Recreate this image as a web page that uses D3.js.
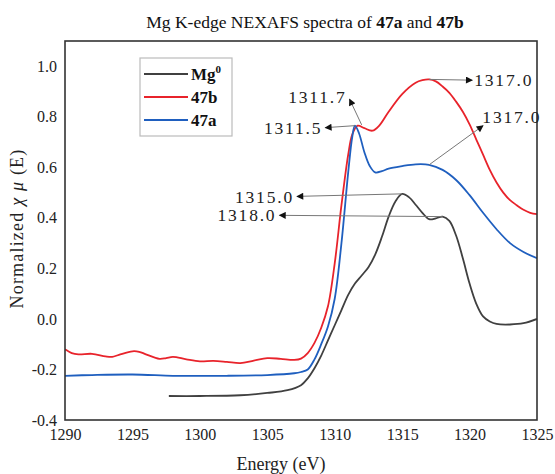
<html>
<head>
    <script src="https://d3js.org/d3.v7.min.js"></script>
    <style>
        body { margin: 0; background: #fff; }
        .tick-label { font-family: "Liberation Serif", serif; font-size: 16px; fill: #222; }
        .title { font-family: "Liberation Serif", serif; font-size: 17.5px; fill: #111; text-anchor: middle; }
        .axis-label { font-family: "Liberation Serif", serif; font-size: 18px; fill: #222; }
        .legend text { font-family: "Liberation Serif", serif; font-size: 17px; font-weight: bold; fill: #111; }
        .note { font-family: "Liberation Serif", serif; font-size: 17.5px; fill: #222; letter-spacing: 1.8px; }
        .arrow-line { stroke: #777; stroke-width: 1; }
    </style>
</head>
<body>
    <svg id="chart"></svg>

    <script>
        // Mg0 reference
        const mg0Energy = [1297.7, 1300, 1303, 1305, 1306.5, 1307.5, 1308, 1308.5, 1309, 1309.5, 1310, 1310.5, 1311, 1311.5, 1312, 1312.5, 1313, 1313.5, 1314, 1314.5, 1315, 1315.5, 1316, 1316.5, 1317, 1317.5, 1318, 1318.5, 1319, 1319.5, 1320, 1320.5, 1321, 1321.5, 1322, 1323, 1324, 1325];
        const mg0Value = [-0.305, -0.305, -0.302, -0.293, -0.282, -0.262, -0.235, -0.195, -0.145, -0.085, -0.025, 0.035, 0.095, 0.14, 0.172, 0.205, 0.255, 0.325, 0.405, 0.465, 0.495, 0.482, 0.452, 0.42, 0.395, 0.398, 0.405, 0.388, 0.33, 0.24, 0.14, 0.06, 0.01, -0.01, -0.02, -0.022, -0.017, 0.0];

        // 47b
        const b47Energy = [1290, 1290.5, 1291, 1292, 1293, 1293.5, 1294, 1295, 1295.5, 1296, 1297, 1297.5, 1298, 1299, 1300, 1301, 1302, 1303, 1304, 1305, 1306, 1307, 1307.5, 1308, 1308.5, 1309, 1309.5, 1310, 1310.5, 1311, 1311.3, 1311.7, 1312.2, 1312.8, 1313.3, 1314, 1315, 1316, 1316.5, 1317, 1317.5, 1318, 1318.5, 1319, 1319.5, 1320, 1320.5, 1321, 1321.5, 1322, 1322.5, 1323, 1323.5, 1324, 1324.5, 1325];
        const b47Value = [-0.12, -0.135, -0.14, -0.138, -0.148, -0.15, -0.142, -0.128, -0.13, -0.14, -0.158, -0.155, -0.15, -0.16, -0.168, -0.166, -0.17, -0.175, -0.165, -0.155, -0.158, -0.162, -0.157, -0.135, -0.095, -0.035, 0.05, 0.22, 0.45, 0.65, 0.73, 0.765, 0.755, 0.745, 0.765, 0.82, 0.89, 0.935, 0.945, 0.948, 0.94, 0.92, 0.895, 0.86, 0.82, 0.77, 0.71, 0.65, 0.59, 0.54, 0.5, 0.47, 0.45, 0.432, 0.42, 0.415];

        // 47a
        const a47Energy = [1290, 1292, 1295, 1298, 1300, 1302, 1305, 1307, 1307.5, 1308, 1308.5, 1309, 1309.5, 1310, 1310.5, 1311, 1311.3, 1311.5, 1311.8, 1312.2, 1312.6, 1313, 1313.5, 1314, 1315, 1316, 1317, 1318, 1319, 1320, 1321, 1322, 1323, 1324, 1325];
        const a47Value = [-0.225, -0.222, -0.22, -0.225, -0.225, -0.225, -0.222, -0.215, -0.21, -0.2, -0.16, -0.1, -0.03, 0.08, 0.3, 0.58, 0.72, 0.765, 0.735, 0.66, 0.605, 0.58, 0.585, 0.595, 0.605, 0.612, 0.61, 0.59, 0.55, 0.49, 0.42, 0.355, 0.3, 0.265, 0.24];

        const xTicks = [1290, 1295, 1300, 1305, 1310, 1315, 1320, 1325];
        const yTicks = [-0.4, -0.2, 0.0, 0.2, 0.4, 0.6, 0.8, 1.0];

        const series = [
            { name: "Mg", sup: "0", energy: mg0Energy, value: mg0Value, color: "#404040" },
            { name: "47b", sup: "", energy: b47Energy, value: b47Value, color: "#e8232b" },
            { name: "47a", sup: "", energy: a47Energy, value: a47Value, color: "#1f5fbf" }
        ];

        // peak labels: anchor point on curve, arrow tip, label
        const notes = [
            { label: "1317.0", ax: 1317.0, ay: 0.948, tx: 1320.2, ty: 0.945, side: "right" },
            { label: "1317.0", ax: 1317.0, ay: 0.61, tx: 1321.0, ty: 0.765, side: "right", textY: 0.80, textX: 1320.8 },
            { label: "1311.7", ax: 1312.0, ay: 0.768, tx: 1311.1, ty: 0.87, side: "left", textY: 0.88 },
            { label: "1311.5", ax: 1311.5, ay: 0.765, tx: 1309.3, ty: 0.757, side: "left" },
            { label: "1315.0", ax: 1315.0, ay: 0.495, tx: 1307.2, ty: 0.485, side: "left" },
            { label: "1318.0", ax: 1318.0, ay: 0.405, tx: 1305.9, ty: 0.41, side: "left" }
        ];

        const margin = { top: 41, right: 18, bottom: 54, left: 65 };
        const width = 555 - margin.left - margin.right;
        const height = 474 - margin.top - margin.bottom;

        const root = d3.select("svg#chart")
            .attr("width", 555)
            .attr("height", 474);

        root.append("text")
            .attr("class", "title")
            .attr("x", 305)
            .attr("y", 28)
            .call(t => {
                t.append("tspan").text("Mg K-edge NEXAFS spectra of ");
                t.append("tspan").attr("font-weight", "bold").text("47a");
                t.append("tspan").text(" and ");
                t.append("tspan").attr("font-weight", "bold").text("47b");
            });

        const svg = root.append("g")
            .attr("transform", `translate(${margin.left},${margin.top})`);

        const x = d3.scaleLinear().domain([1290, 1325]).range([0, width]);
        const y = d3.scaleLinear().domain([-0.4, 1.1]).range([height, 0]);

        svg.append("defs").append("marker")
            .attr("id", "head")
            .attr("viewBox", "0 0 10 10")
            .attr("refX", 9)
            .attr("refY", 5)
            .attr("markerWidth", 9)
            .attr("markerHeight", 7)
            .attr("markerUnits", "userSpaceOnUse")
            .attr("orient", "auto")
            .append("path")
            .attr("d", "M0,0 L10,5 L0,10 z")
            .attr("fill", "#111");

        svg.append("clipPath").attr("id", "clip")
            .append("rect").attr("width", width).attr("height", height);

        const line = d3.line()
            .x(d => x(d[0]))
            .y(d => y(d[1]))
            .curve(d3.curveCatmullRom.alpha(0.5));

        const plot = svg.append("g").attr("clip-path", "url(#clip)");

        plot.selectAll(".series")
            .data(series)
            .enter()
            .append("path")
            .attr("class", "series")
            .attr("fill", "none")
            .attr("stroke", d => d.color)
            .attr("stroke-width", 1.8)
            .attr("d", d => line(d.energy.map((e, i) => [e, d.value[i]])));

        // axes (labels only, no tick marks)
        const xAxis = svg.append("g")
            .attr("transform", `translate(0,${height})`)
            .call(d3.axisBottom(x).tickValues(xTicks).tickSize(0).tickPadding(9).tickFormat(d3.format("d")));
        const yAxis = svg.append("g")
            .call(d3.axisLeft(y).tickValues(yTicks).tickSize(0).tickPadding(8).tickFormat(d => d3.format(".1f")(d).replace("−", "-")));
        [xAxis, yAxis].forEach(a => {
            a.select(".domain").remove();
            a.selectAll("text").attr("class", "tick-label").attr("font-size", null).attr("font-family", null);
        });

        svg.append("rect")
            .attr("width", width)
            .attr("height", height)
            .attr("fill", "none")
            .attr("stroke", "#333")
            .attr("stroke-width", 1.6);

        svg.append("text")
            .attr("class", "axis-label")
            .attr("text-anchor", "middle")
            .attr("x", width / 2 - 20)
            .attr("y", height + 50)
            .text("Energy (eV)");

        svg.append("text")
            .attr("class", "axis-label")
            .attr("text-anchor", "middle")
            .attr("letter-spacing", "1.2px")
            .attr("transform", `translate(-42,${height / 2 - 2})rotate(-90)`)
            .call(t => {
                t.append("tspan").text("Normalized ");
                t.append("tspan").attr("font-style", "italic").text("χ μ");
                t.append("tspan").text(" (E)");
            });

        // legend
        const legend = svg.append("g").attr("class", "legend")
            .attr("transform", "translate(75,17)");
        legend.append("rect")
            .attr("width", 92)
            .attr("height", 78)
            .attr("fill", "#fff")
            .attr("stroke", "#bbb")
            .attr("stroke-width", 1.2);
        const rows = legend.selectAll(".row")
            .data(series)
            .enter()
            .append("g")
            .attr("class", "row")
            .attr("transform", (d, i) => `translate(0,${16 + i * 23})`);
        rows.append("line")
            .attr("x1", 4).attr("x2", 48)
            .attr("stroke", d => d.color)
            .attr("stroke-width", 2);
        rows.append("text")
            .attr("x", 51)
            .attr("y", 6)
            .call(t => {
                t.append("tspan").text(d => d.name);
                t.filter(d => d.sup).append("tspan")
                    .attr("dy", -7).attr("font-size", "11px").text(d => d.sup);
            });

        // peak annotations
        const notesG = svg.append("g");
        notesG.selectAll(".arrow-line")
            .data(notes)
            .enter()
            .append("line")
            .attr("class", "arrow-line")
            .attr("x1", d => x(d.ax))
            .attr("y1", d => y(d.ay))
            .attr("x2", d => x(d.tx))
            .attr("y2", d => y(d.ty))
            .attr("marker-end", "url(#head)");
        notesG.selectAll(".note")
            .data(notes)
            .enter()
            .append("text")
            .attr("class", "note")
            .attr("text-anchor", d => d.side === "left" ? "end" : "start")
            .attr("x", d => x(d.textX != null ? d.textX : d.tx) + (d.side === "left" ? -3 : 2))
            .attr("y", d => y(d.textY != null ? d.textY : d.ty))
            .attr("dy", "0.35em")
            .text(d => d.label);
    </script>
</body>
</html>
